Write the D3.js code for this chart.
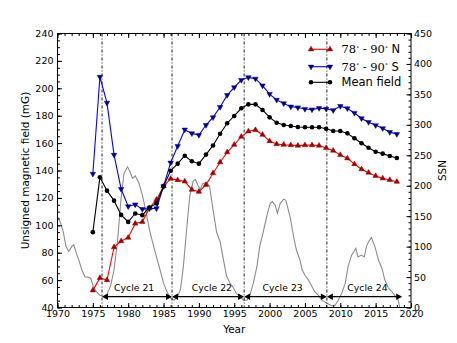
<!DOCTYPE html>
<meta charset="utf-8">
<style>
body { margin: 0; background: #fff; }
svg text { font-family: "DejaVu Sans", sans-serif; fill: #000; }
.axis path { display: none; }
.axis line { stroke: #000; }
.axis text { font-size: 9.5px; }
</style>
<body>
  <svg id="chart" width="457" height="343"></svg>
</body>
<script src="https://d3js.org/d3.v7.min.js"></script>
<script>
// Data: yearly polar field values (mG)
var years = d3.range(1975, 2019);
var northField = [52.5, 61.6, 60, 84, 88.5, 91, 101.3, 102.5, 112.5, 118.7,
  128.5, 134, 133, 132, 126, 124.5, 129.5, 138, 146, 153.3,
  158.8, 164.7, 168.6, 169.6, 166.1, 161.5, 159.3, 158.8, 158.5, 158.2,
  158.5, 158.5, 158.2, 156.4, 154.5, 151.3, 148.9, 144.7, 140.9, 138.4,
  136, 134.3, 133.1, 131.8];
var southField = [137.5, 208.3, 189.4, 151.4, 126.5, 113.8, 115.2, 111.8, 112.3, 112.3,
  128.5, 145.7, 157.9, 169.8, 167.1, 165.9, 173.2, 178.8, 186.3, 195,
  200.7, 206, 208, 207, 202, 195.8, 191.5, 189, 186.6, 186,
  184.9, 184.5, 185.5, 185, 184, 187, 185.3, 182, 178, 175.3,
  173, 170.8, 168, 166.6];
var meanField = [95, 135, 125.3, 118, 107.6, 102.5, 108.6, 107.4, 113, 116,
  128.5, 139.8, 145, 150.8, 146.7, 145, 151.6, 158.3, 166.8, 174.5,
  179.8, 185.4, 188.3, 188.3, 184.2, 178.8, 174.9, 173.2, 172.5, 171.8,
  171.6, 171.6, 171.6, 170.5, 168.8, 168.8, 167.1, 163.5, 159.9, 156.6,
  153.7, 152.3, 150.6, 149.1];

// smoothed sunspot number (right axis)
var ssnYears = [1970.0, 1970.4, 1970.8, 1971.2, 1971.6, 1972.0, 1972.3, 1972.7, 1973.1, 1973.5,
  1973.9, 1974.3, 1974.7, 1975.1, 1975.5, 1976.0, 1976.5, 1977.0, 1977.5, 1978.0,
  1978.5, 1979.0, 1979.4, 1979.9, 1980.3, 1980.6, 1981.0, 1981.5, 1982.0, 1982.5,
  1983.0, 1983.5, 1984.0, 1984.5, 1985.0, 1985.5, 1986.0, 1986.5, 1987.0, 1987.4,
  1987.8, 1988.3, 1988.7, 1989.2, 1989.5, 1989.9, 1990.2, 1990.5, 1991.0, 1991.5,
  1991.8, 1992.2, 1992.5, 1993.0, 1993.4, 1993.9, 1994.4, 1994.9, 1995.3, 1995.8,
  1996.3, 1996.8, 1997.2, 1997.7, 1998.2, 1998.6, 1999.1, 1999.7, 2000.1, 2000.4,
  2000.8, 2001.1, 2001.5, 2002.0, 2002.3, 2002.9, 2003.4, 2003.8, 2004.3, 2004.6,
  2005.0, 2005.5, 2006.0, 2006.4, 2006.9, 2007.4, 2008.1, 2008.8, 2009.3, 2009.7,
  2010.2, 2010.7, 2011.1, 2011.6, 2012.2, 2012.5, 2013.0, 2013.4, 2013.7, 2014.0,
  2014.4, 2014.9, 2015.4, 2015.9, 2016.3, 2016.8, 2017.3, 2017.7, 2018.2, 2018.4];
var ssnValues = [149, 140, 125, 100, 92, 100, 103, 88, 75, 60,
  50, 50, 48, 33, 26, 20, 18, 22, 35, 62,
  110, 180, 220, 231, 222, 212, 216, 205, 185, 158,
  128, 105, 83, 62, 40, 25, 15, 12, 18, 30,
  67, 133, 182, 208, 210, 200, 194, 203, 205, 200,
  176, 146, 124, 108, 83, 52, 40, 32, 23, 18,
  12, 12, 20, 40, 67, 100, 124, 155, 171, 174,
  168, 155, 171, 178, 176, 149, 116, 94, 78, 62,
  53, 45, 34, 26, 20, 12, 7, 3, 4, 12,
  23, 40, 67, 86, 97, 83, 86, 83, 100, 108,
  115, 100, 78, 64, 45, 32, 26, 20, 12, 0];

// cycle boundaries (dash-dot lines) and arrow labels
var cycleStarts = [1976.3, 1986.2, 1996.4, 2008.1];
var cycleEnds = [1986.2, 1996.4, 2008.1, 2018.75];
var cycleNames = ["Cycle 21", "Cycle 22", "Cycle 23", "Cycle 24"];
var cycleLabelYears = [1978, 1989, 1999, 2011];

// Globals (plot box edges)
var svg = d3.select("#chart"),
  pLeft = 57.5, pRight = 411, pTop = 33.5, pBottom = 307.5;

svg.append("rect").attr("width", 457).attr("height", 343).attr("fill", "#fff");

var x = d3.scaleLinear().domain([1970, 2020]).range([pLeft, pRight]),
  y = d3.scaleLinear().domain([40, 240]).range([pBottom, pTop]),
  y2 = d3.scaleLinear().domain([0, 450]).range([pBottom, pTop]);

// sunspot curve first, so it sits under everything
var ssnLine = d3.line()
  .x(function(d, i) { return x(ssnYears[i]); })
  .y(function(d) { return y2(d); });
svg.append("path").datum(ssnValues)
  .attr("d", ssnLine).attr("fill", "none")
  .attr("stroke", "#8c8c8c").attr("stroke-width", 1.1);

// cycle minima
svg.selectAll(".cyc").data(cycleStarts).enter().append("line")
  .attr("x1", function(d) { return x(d); }).attr("x2", function(d) { return x(d); })
  .attr("y1", pTop).attr("y2", pBottom)
  .attr("stroke", "#000").attr("stroke-width", 0.9)
  .attr("stroke-dasharray", "3,2,1,2");

// arrows
var arrowY = y(47.9);
cycleStarts.forEach(function(s, i) {
  var x0 = x(s), x1 = x(cycleEnds[i]);
  svg.append("line").attr("x1", x0 + 4).attr("x2", x1 - 4)
    .attr("y1", arrowY).attr("y2", arrowY).attr("stroke", "#000").attr("stroke-width", 1.2);
  svg.append("path").attr("d", "M" + x0 + "," + arrowY + "l6,-3.2l0,6.4z").attr("fill", "#000");
  svg.append("path").attr("d", "M" + x1 + "," + arrowY + "l-6,-3.2l0,6.4z").attr("fill", "#000");
  svg.append("text").attr("x", x(cycleLabelYears[i])).attr("y", y(52.4))
    .style("font-size", "9.3px").text(cycleNames[i]);
});

// field series
var series = [
  { name: "north", values: northField, line: "#ff0000", marker: "#a00000", sym: "up" },
  { name: "south", values: southField, line: "#0000ff", marker: "#00008b", sym: "down" },
  { name: "mean", values: meanField, line: "#000", marker: "#000", sym: "circle" }
];

var fieldLine = d3.line()
  .x(function(d, i) { return x(years[i]); })
  .y(function(d) { return y(d); });

function marker(g, s, cx, cy) {
  if (s.sym == "circle") {
    g.append("circle").attr("cx", cx).attr("cy", cy).attr("r", 2.3).attr("fill", s.marker);
  } else {
    var sym = d3.symbol(d3.symbolTriangle).size(13)();
    g.append("path").attr("d", sym)
      .attr("transform", "translate(" + cx + "," + cy + ")" + (s.sym == "down" ? " rotate(180)" : ""))
      .attr("fill", s.marker).attr("stroke", s.marker).attr("stroke-width", 0.5);
  }
}

series.forEach(function(s) {
  svg.append("path").datum(s.values).attr("d", fieldLine)
    .attr("fill", "none").attr("stroke", s.line).attr("stroke-width", 1.1);
  var g = svg.append("g");
  s.values.forEach(function(v, i) { marker(g, s, x(years[i]), y(v)); });
});

// axes: major + minor ticks pointing inward
function addAxis(axis, tr) {
  return svg.append("g").attr("class", "axis").attr("transform", tr).call(axis);
}
addAxis(d3.axisBottom(x).tickValues(d3.range(1970, 2021, 5)).tickFormat(d3.format("d"))
  .tickSize(-4.5).tickSizeOuter(0).tickPadding(3), "translate(0," + pBottom + ")");
addAxis(d3.axisBottom(x).tickValues(d3.range(1970, 2021, 1)).tickFormat("")
  .tickSize(-2.5).tickSizeOuter(0), "translate(0," + pBottom + ")");
addAxis(d3.axisTop(x).tickValues(d3.range(1970, 2021, 5)).tickFormat("")
  .tickSize(-4.5).tickSizeOuter(0), "translate(0," + pTop + ")");
addAxis(d3.axisTop(x).tickValues(d3.range(1970, 2021, 1)).tickFormat("")
  .tickSize(-2.5).tickSizeOuter(0), "translate(0," + pTop + ")");
addAxis(d3.axisLeft(y).tickValues(d3.range(40, 241, 20))
  .tickSize(-4.5).tickSizeOuter(0).tickPadding(4), "translate(" + pLeft + ",0)");
addAxis(d3.axisLeft(y).tickValues(d3.range(40, 241, 5)).tickFormat("")
  .tickSize(-2.5).tickSizeOuter(0), "translate(" + pLeft + ",0)");
addAxis(d3.axisRight(y2).tickValues(d3.range(0, 451, 50))
  .tickSize(-4.5).tickSizeOuter(0).tickPadding(3), "translate(" + pRight + ",0)");
addAxis(d3.axisRight(y2).tickValues(d3.range(0, 451, 10)).tickFormat("")
  .tickSize(-2.5).tickSizeOuter(0), "translate(" + pRight + ",0)");

svg.append("rect").attr("x", pLeft).attr("y", pTop)
  .attr("width", pRight - pLeft).attr("height", pBottom - pTop)
  .attr("fill", "none").attr("stroke", "#000").attr("stroke-width", 1);

// axis titles
svg.append("text").attr("x", (pLeft + pRight) / 2).attr("y", 333)
  .attr("text-anchor", "middle").style("font-size", "10.5px").text("Year");
svg.append("text").attr("transform", "translate(29," + (pTop + pBottom) / 2 + ") rotate(-90)")
  .attr("text-anchor", "middle").style("font-size", "10.5px").text("Unsigned magnetic field (mG)");
svg.append("text").attr("transform", "translate(446," + (pTop + pBottom) / 2 + ") rotate(-90)")
  .attr("text-anchor", "middle").style("font-size", "10.5px").text("SSN");

// legend
var legendRows = [49.3, 66.7, 82.3];
var legendLabels = [["78", "90", " N"], ["78", "90", " S"], null];
series.forEach(function(s, i) {
  var ly = legendRows[i], g = svg.append("g");
  g.append("line").attr("x1", 311).attr("x2", 330).attr("y1", ly).attr("y2", ly)
    .attr("stroke", s.line).attr("stroke-width", 1.1);
  marker(g, s, 311, ly);
  marker(g, s, 330, ly);
  var t = g.append("text").attr("x", 341.5).attr("y", ly + 4).style("font-size", "11.5px");
  if (legendLabels[i]) {
    var lab = legendLabels[i];
    t.append("tspan").style("font-family", "DejaVu Serif, serif").text(lab[0]);
    t.append("tspan").attr("dy", -4.5).style("font-size", "6px").style("font-family", "DejaVu Serif, serif").text("\u2218");
    t.append("tspan").attr("dy", 4.5).style("font-family", "DejaVu Serif, serif").text(" - " + lab[1]);
    t.append("tspan").attr("dy", -4.5).style("font-size", "6px").style("font-family", "DejaVu Serif, serif").text("\u2218");
    t.append("tspan").attr("dy", 4.5).text(lab[2]);
  } else {
    t.text("Mean field");
  }
});
</script>
